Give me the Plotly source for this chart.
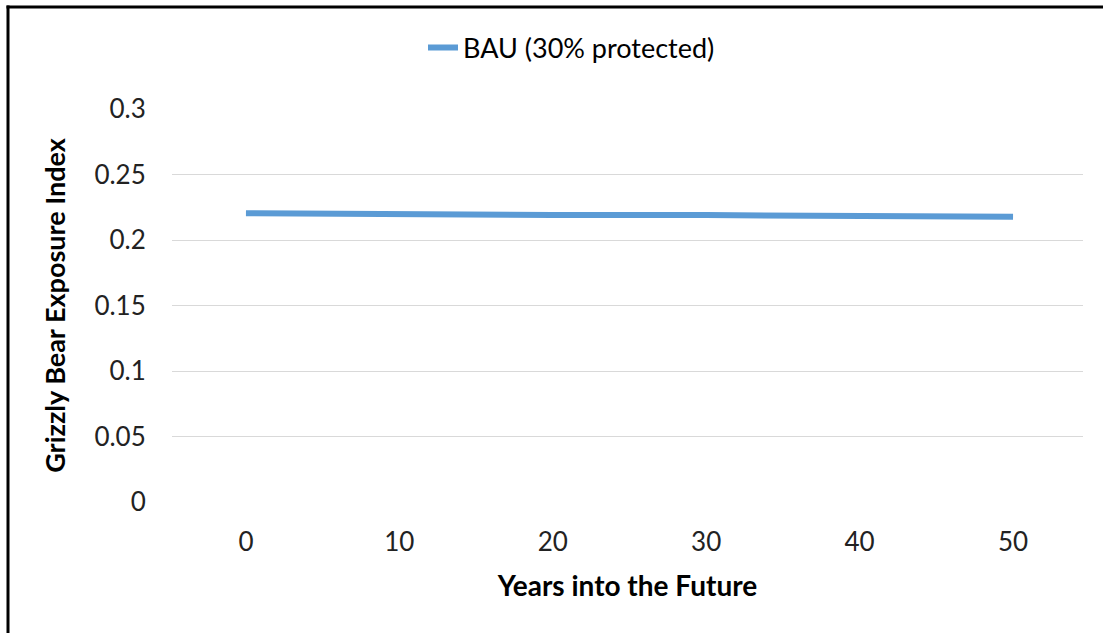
import plotly.graph_objects as go

years = [0, 10, 20, 30, 40, 50]
bau_30 = [0.2205, 0.2195, 0.219, 0.219, 0.2180, 0.2178]
y_ticks = [0, 0.05, 0.1, 0.15, 0.2, 0.25, 0.3]
y_tick_labels = ["0", "0.05", "0.1", "0.15", "0.2", "0.25", "0.3"]

W, H = 1103, 633
L, R, T, B = 172, 20, 109, 131
pw, ph = W - L - R, H - T - B

fig = go.Figure()
fig.add_trace(go.Scatter(
    x=years, y=bau_30, mode="lines", name="BAU (30% protected)",
    line=dict(color="#5b9bd5", width=6),
))

def px_to_paper_x(px):
    return (px - L) / pw

def px_to_paper_y(py):
    return (H - B - py) / ph

fig.update_layout(
    width=W, height=H,
    margin=dict(l=L, r=R, t=T, b=B),
    paper_bgcolor="white", plot_bgcolor="white",
    font=dict(family="Lato, Carlito, sans-serif", size=26, color="#000000"),
    showlegend=True,
    legend=dict(orientation="h", x=px_to_paper_x(423), y=px_to_paper_y(48),
                xanchor="left", yanchor="middle", font=dict(size=27),
                bgcolor="rgba(0,0,0,0)"),
    xaxis=dict(range=[-4.82, 54.56], tickvals=years, ticktext=[str(v) for v in years],
               showgrid=False, zeroline=False, showline=False,
               ticks="outside", ticklen=17, tickcolor="rgba(0,0,0,0)",
               title=dict(text="<b>Years into the Future</b>", font=dict(size=28), standoff=20),
               tickfont=dict(size=26, color="#222")),
    yaxis=dict(range=[0, 0.3], tickvals=y_ticks, ticktext=y_tick_labels,
               showgrid=True, gridcolor="#d9d9d9", gridwidth=1, zeroline=False,
               showline=False,
               ticks="outside", ticklen=20, tickcolor="rgba(0,0,0,0)",
               title=dict(text="<b>Grizzly Bear Exposure Index</b>", font=dict(size=27), standoff=20),
               tickfont=dict(size=26, color="#222")),
    shapes=[
        dict(type="line", xref="paper", yref="paper",
             x0=px_to_paper_x(8), x1=px_to_paper_x(8),
             y0=px_to_paper_y(5.5), y1=px_to_paper_y(H + 10),
             line=dict(color="black", width=3)),
        dict(type="line", xref="paper", yref="paper",
             x0=px_to_paper_x(6.5), x1=px_to_paper_x(W + 10),
             y0=px_to_paper_y(7), y1=px_to_paper_y(7),
             line=dict(color="black", width=3)),
    ],
)

fig.write_html("out.html", config={"displayModeBar": False},
               post_script="document.body.style.margin='0';")
